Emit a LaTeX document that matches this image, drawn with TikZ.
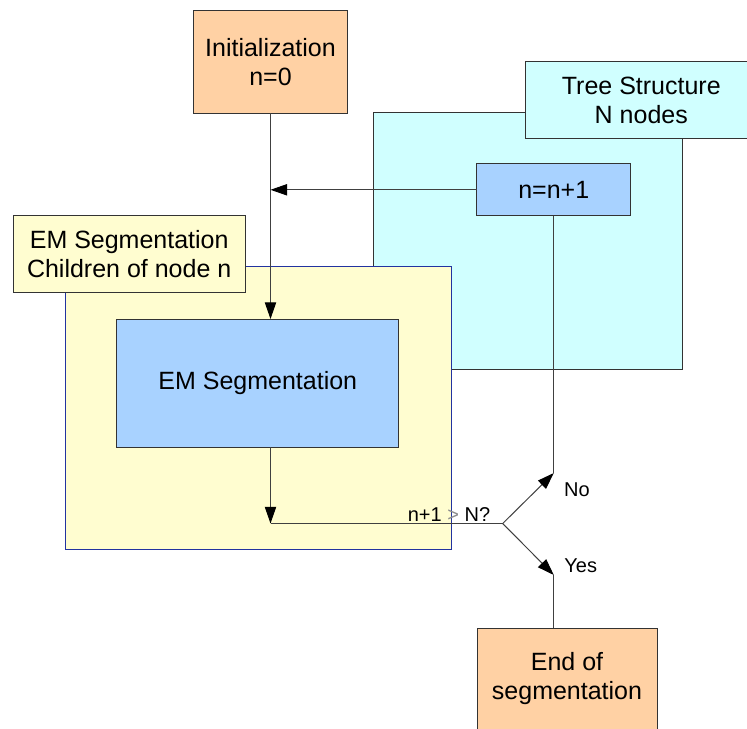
\documentclass[tikz,border=0pt]{standalone}
\usepackage{fontspec}
\setmainfont{Liberation Sans}
\usetikzlibrary{arrows.meta}

\definecolor{peach}{HTML}{FFD1A4}
\definecolor{treecyan}{HTML}{D0FFFF}
\definecolor{emyellow}{HTML}{FFFDD0}
\definecolor{stepblue}{HTML}{A8D2FF}
\definecolor{edgegray}{HTML}{333333}
\definecolor{edgenavy}{HTML}{2233A0}

\begin{document}
\begin{tikzpicture}[x=0.75pt, y=-0.75pt,
        box/.style={draw=edgegray, line width=0.75pt, inner sep=0pt, outer sep=0pt, align=center,
            font=\fontsize{18.75}{21.75}\selectfont},
        small/.style={inner sep=0pt, font=\fontsize{15}{18}\selectfont},
        flow/.style={draw=black!75, line width=0.75pt},
        arr/.style={flow, -{Triangle[length=12.5pt, width=8.5pt, black]}}]
    \clip (0,0) rectangle (747,729);
    % tree region
    \node[box, fill=treecyan, minimum width=231.5pt, minimum height=193pt] (tree) at (527.7,241.3) {};
    \node[box, fill=treecyan, minimum width=173.3pt, minimum height=58pt] (treelbl) at (641.3,100.3) {Tree Structure\\N nodes};
    % EM region
    \node[box, draw=edgenavy, fill=emyellow, minimum width=289.5pt, minimum height=212.5pt] (embox) at (258,408.3) {};
    \node[box, fill=emyellow, minimum width=173.8pt, minimum height=57.5pt] (emlbl) at (129.2,254.3) {EM Segmentation\\Children of node n};
    \node[box, fill=stepblue, minimum width=211.7pt, minimum height=96pt] (em) at (257.8,383) {EM Segmentation};
    % steps
    \node[box, fill=peach, minimum width=115.8pt, minimum height=77.3pt] (init) at (270.5,61.8) {Initialization\\n=0};
    \node[box, fill=stepblue, minimum width=115.3pt, minimum height=38.8pt] (incr) at (553.8,189.8) {n=n+1};
    \node[box, fill=peach, minimum width=135pt, minimum height=76.5pt] (endbox) at (567,679) {End of\\segmentation};
    % decision
    \coordinate (dec) at (502.7,523.5);
    \coordinate (noturn) at (553.8,473);
    \coordinate (yesturn) at (553.8,575);
    \draw[arr] (init.south) -- (init.south |- em.north);
    \draw[arr] (incr.west) -- (incr.west -| init.south);
    \draw[arr] (em.south -| init.south) -- (init.south |- dec);
    \draw[flow] (init.south |- dec) -- (dec);
    \draw[arr] (dec) -- (noturn);
    \draw[flow] (noturn) -- (incr.south);
    \draw[arr] (dec) -- (yesturn);
    \draw[flow] (yesturn) -- (yesturn |- endbox.north);
    \node[small, anchor=base] (cond) at (449,521.5) {n+1 \textcolor{black!45}{>} N?};
    \node[small, anchor=base] (nolbl) at (577,496) {No};
    \node[small, anchor=base] (yeslbl) at (580.7,572.7) {Yes};
\end{tikzpicture}
\end{document}
